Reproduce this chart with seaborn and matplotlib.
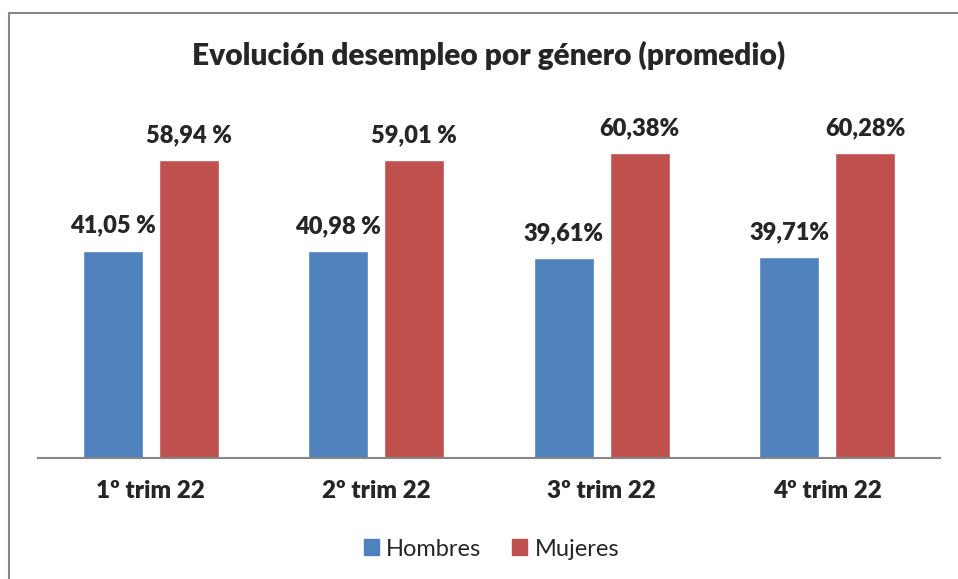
import pandas as pd
import numpy as np
import seaborn as sns
import matplotlib.pyplot as plt
from matplotlib.lines import Line2D

periodos = ["1º trim 22", "2º trim 22", "3º trim 22", "4º trim 22"]
hombres = [41.05, 40.98, 39.61, 39.71]
mujeres = [58.94, 59.01, 60.38, 60.28]
etiq_hombres = ["41,05 %", "40,98 %", "39,61%", "39,71%"]
etiq_mujeres = ["58,94 %", "59,01 %", "60,38%", "60,28%"]
series = ["Hombres", "Mujeres"]
colores = ["#4F81BD", "#C0504D"]

df = pd.DataFrame({
    "periodo": periodos * 2,
    "genero": [series[0]] * 4 + [series[1]] * 4,
    "valor": hombres + mujeres,
})

sns.set_style("white")
plt.rcParams['font.family'] = ['Lato', 'DejaVu Sans']

fig = plt.figure(figsize=(9.58, 5.79), dpi=100)
ax = fig.add_axes([0.0397, 0.209, 0.9415, 0.611])

sns.barplot(data=df, x="periodo", y="valor", hue="genero", palette=colores,
            width=0.675, gap=0.21, saturation=1, ax=ax, legend=False)

for cont, etiq in zip(ax.containers, [etiq_hombres, etiq_mujeres]):
    ax.bar_label(cont, labels=etiq, padding=10, fontsize=17, fontweight="heavy")

ax.set_ylim(0, 70)
ax.set_xlim(-0.5, 3.5)
ax.set_yticks([])
ax.set_xlabel("")
ax.set_ylabel("")
for s in ["top", "right", "left"]:
    ax.spines[s].set_visible(False)
ax.spines["bottom"].set_color("#868686")
ax.spines["bottom"].set_linewidth(1.5)
ax.tick_params(axis="x", length=0, pad=16, labelsize=17.5)
for t in ax.get_xticklabels():
    t.set_fontweight("heavy")

fig.text(0.51, 1 - 55 / 579, "Evolución desempleo por género (promedio)",
         ha="center", va="center", fontsize=21.5, fontweight="heavy")

handles = [plt.Rectangle((0, 0), 1, 1, color=c) for c in colores]
fig.legend(handles, series, loc="center", bbox_to_anchor=(0.513, 1 - 549 / 579),
           ncol=2, frameon=False, fontsize=17, handlelength=0.65, handleheight=0.65,
           handletextpad=0.3, columnspacing=1.3)

# marco del gráfico (solo visible arriba e izquierda)
fig.add_artist(Line2D([9 / 958, 1.0], [1 - 13 / 579] * 2, color="#868686", lw=1.5))
fig.add_artist(Line2D([9 / 958] * 2, [0.0, 1 - 13 / 579], color="#868686", lw=1.5))

fig.savefig("out.png", dpi=100)
